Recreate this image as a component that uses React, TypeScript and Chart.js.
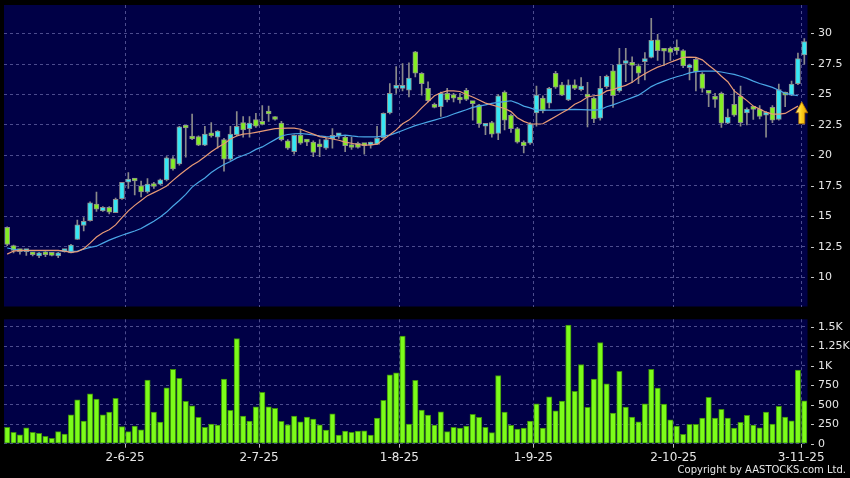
import React, { useEffect, useRef } from 'react';
import { Chart, registerables } from 'chart.js';

Chart.register(...registerables);

// ---- trading days (HK), 6 May 2025 .. 3 Nov 2025 ----
const daysMay = [6, 7, 8, 9, 12, 13, 14, 15, 16, 19, 20, 21, 22, 23, 26, 27, 28, 29, 30];
const daysJun = [2, 3, 4, 5, 6, 9, 10, 11, 12, 13, 16, 17, 18, 19, 20, 23, 24, 25, 26, 27, 30];
const daysJul = [2, 3, 4, 7, 8, 9, 10, 11, 14, 15, 16, 17, 18, 21, 22, 23, 24, 25, 28, 29, 30, 31];
const daysAug = [1, 4, 5, 6, 7, 8, 11, 12, 13, 14, 15, 18, 19, 20, 21, 22, 25, 26, 27, 28, 29];
const daysSep = [1, 2, 3, 4, 5, 8, 9, 10, 11, 12, 15, 16, 17, 18, 19, 22, 23, 24, 25, 26, 29, 30];
const daysOct = [2, 3, 6, 8, 9, 10, 13, 14, 15, 16, 17, 20, 21, 22, 23, 24, 27, 28, 30, 31];
const daysNov = [3];

const categories: string[] = [
  ...daysMay.map((d) => `${d}-5-25`),
  ...daysJun.map((d) => `${d}-6-25`),
  ...daysJul.map((d) => `${d}-7-25`),
  ...daysAug.map((d) => `${d}-8-25`),
  ...daysSep.map((d) => `${d}-9-25`),
  ...daysOct.map((d) => `${d}-10-25`),
  ...daysNov.map((d) => `${d}-11-25`),
];

const tickLabels = ['2-6-25', '2-7-25', '1-8-25', '1-9-25', '2-10-25', '3-11-25'];

// ---- OHLC ----
const open = [
  14.1, 12.6, 12.2, 12.1, 11.9, 11.75, 11.9, 11.95, 11.75, 12.1,
  12.0, 13.1, 14.25, 14.65, 16.0, 15.45, 15.75, 15.3, 16.45, 17.8,
  17.95, 17.5, 17.0, 17.7, 17.65, 18.0, 19.75, 19.3, 22.3, 21.4,
  21.55, 20.85, 21.8, 21.5, 21.3, 19.7, 21.7, 22.7, 22.2, 22.95,
  22.6, 23.45, 23.1, 22.65, 21.2, 20.3, 21.65, 21.15, 21.1, 20.75,
  20.6, 21.35, 21.6, 21.5, 20.85, 21.0, 20.85, 20.85, 20.9, 21.45,
  23.5, 25.5, 25.5, 25.35, 28.5, 26.75, 25.5, 24.2, 24.0, 25.1,
  25.0, 24.8, 25.35, 24.3, 24.15, 22.4, 22.7, 21.8, 25.2, 23.3,
  22.2, 21.1, 21.0, 23.5, 24.7, 24.3, 26.75, 25.8, 24.55, 25.8,
  25.4, 24.85, 24.7, 23.05, 25.65, 26.95, 25.3, 27.55, 27.45, 27.35,
  27.7, 28.05, 29.5, 28.6, 28.8, 28.9, 28.6, 27.2, 27.9, 26.7,
  25.15, 24.65, 25.1, 22.65, 24.2, 24.85, 23.5, 23.8, 23.8, 23.3,
  23.95, 22.95, 25.0, 24.95, 25.9, 28.25,
];
const high = [
  14.15, 12.65, 12.3, 12.2, 12.0, 12.05, 12.1, 12.0, 12.05, 12.2,
  12.7, 14.7, 14.9, 16.2, 17.0, 15.8, 15.8, 16.5, 17.8, 18.6,
  18.0, 17.9, 18.1, 17.8, 18.05, 19.9, 19.9, 22.4, 22.35, 23.4,
  21.6, 22.4, 22.7, 22.05, 21.4, 22.4, 23.6, 23.2, 23.2, 23.45,
  24.1, 24.05, 23.2, 22.8, 21.3, 21.7, 22.1, 21.3, 21.2, 21.3,
  21.4, 22.2, 21.8, 21.6, 21.5, 21.1, 21.0, 21.1, 22.4, 23.5,
  25.9, 27.3, 27.55, 27.6, 28.55, 26.8, 26.05, 24.3, 25.2, 25.5,
  25.1, 25.1, 25.5, 24.4, 24.2, 22.5, 22.8, 25.0, 25.3, 23.4,
  22.3, 21.2, 22.7, 25.7, 24.9, 25.6, 26.9, 26.0, 26.2, 26.2,
  26.4, 26.0, 24.8, 26.5, 26.6, 27.4, 28.8, 28.8, 28.1, 27.5,
  28.45, 31.25, 29.95, 28.7, 28.9, 29.5, 28.7, 27.5, 28.0, 26.8,
  25.2, 25.1, 25.2, 23.8, 25.4, 25.7, 23.9, 24.0, 24.1, 23.6,
  24.1, 25.85, 25.2, 26.1, 28.4, 29.6,
];
const low = [
  12.6, 12.0, 11.9, 11.8, 11.75, 11.6, 11.7, 11.75, 11.6, 12.05,
  12.0, 13.1, 13.8, 14.6, 15.4, 15.4, 15.2, 15.3, 16.4, 17.3,
  16.75, 16.6, 16.9, 17.3, 17.6, 17.9, 18.8, 19.2, 19.85, 21.3,
  20.8, 20.8, 21.5, 20.6, 18.7, 19.6, 21.6, 21.5, 21.5, 22.3,
  22.5, 22.8, 22.9, 21.2, 20.5, 20.1, 20.9, 20.8, 19.9, 19.9,
  20.5, 20.6, 21.4, 20.3, 20.5, 20.6, 20.1, 20.6, 20.9, 21.4,
  23.4, 25.1, 25.3, 24.8, 26.45, 24.95, 24.4, 23.9, 23.2, 24.4,
  24.4, 24.3, 24.5, 22.9, 22.3, 21.7, 21.5, 21.3, 22.1, 21.9,
  21.0, 20.2, 20.9, 22.4, 23.5, 23.9, 25.5, 24.9, 24.5, 25.4,
  25.3, 22.35, 22.7, 22.9, 25.5, 23.95, 25.2, 26.05, 26.0, 25.9,
  26.2, 28.0, 27.8, 27.4, 27.8, 28.3, 27.2, 26.2, 25.3, 25.2,
  24.0, 23.95, 22.3, 22.6, 23.2, 22.4, 22.5, 22.95, 23.0, 21.5,
  22.7, 22.9, 24.0, 24.9, 25.8, 27.5,
];
const close = [
  12.7, 12.2, 12.1, 12.1, 11.85, 12.0, 11.85, 11.8, 12.0, 12.15,
  12.65, 14.3, 14.6, 16.1, 15.6, 15.75, 15.35, 16.4, 17.8, 18.05,
  17.9, 17.0, 17.65, 17.45, 18.0, 19.8, 18.9, 22.35, 22.25, 21.35,
  20.85, 21.75, 21.6, 22.0, 19.7, 21.75, 22.4, 22.1, 22.65, 22.4,
  22.55, 23.4, 22.95, 21.3, 20.6, 21.65, 21.0, 21.1, 20.25, 20.7,
  21.3, 21.65, 21.6, 20.8, 20.65, 20.65, 20.8, 20.9, 21.4, 23.45,
  25.1, 25.55, 25.5, 26.35, 26.75, 25.9, 24.5, 23.95, 25.1, 24.55,
  24.7, 24.55, 24.6, 24.25, 22.6, 22.4, 21.75, 24.9, 22.9, 22.2,
  21.1, 20.8, 22.6, 24.95, 23.65, 25.5, 25.6, 24.95, 25.8, 25.5,
  25.7, 24.8, 23.0, 25.5, 26.5, 24.9, 27.5, 27.6, 27.4, 26.75,
  27.9, 29.45, 28.6, 28.55, 28.45, 28.6, 27.35, 27.4, 26.85, 25.5,
  25.1, 24.6, 22.65, 23.15, 23.3, 22.7, 23.8, 23.78, 23.2, 23.35,
  22.9, 25.4, 24.95, 25.85, 27.95, 29.35,
];

// ---- moving averages ----
const maShort = [
  11.9, 12.15, 12.2, 12.2, 12.2, 12.2, 12.2, 12.2, 12.2, 12.15,
  12.05, 12.1, 12.35, 12.8, 13.3, 13.65, 13.9, 14.3, 14.9, 15.45,
  15.9, 16.3, 16.7, 16.95, 17.2, 17.5, 17.95, 18.4, 18.8, 19.2,
  19.5, 19.9, 20.3, 20.65, 20.95, 21.35, 21.6, 21.75, 21.8, 21.9,
  22.0, 22.1, 22.2, 22.22, 22.25, 22.25, 22.15, 21.95, 21.75, 21.55,
  21.45, 21.35, 21.25, 21.1, 21.0, 20.9, 20.85, 20.87, 20.93, 21.3,
  21.7, 22.1, 22.6, 22.9, 23.35, 23.9, 24.4, 24.9, 25.15, 25.3,
  25.3, 25.25, 25.0, 24.8, 24.55, 24.3, 24.15, 24.0, 23.85, 23.6,
  23.1, 22.8, 22.6, 22.58, 22.6, 22.9, 23.2, 23.5, 23.8, 24.2,
  24.45, 24.8, 24.9, 24.96, 25.3, 25.4, 25.6, 25.75, 26.0, 26.4,
  26.7, 27.0, 27.25, 27.42, 27.65, 27.85, 28.05, 28.07, 28.05, 27.85,
  27.4, 27.0, 26.5, 26.05, 25.3, 24.9, 24.5, 24.05, 23.8, 23.55,
  23.4, 23.4, 23.45, 23.75, 24.05,
];
const maLong = [
  12.4, 12.3, 12.2, 12.18, 12.18, 12.18, 12.18, 12.18, 12.18, 12.15,
  12.1, 12.15, 12.3, 12.45, 12.55, 12.8, 13.05, 13.25, 13.45, 13.62,
  13.8, 14.0, 14.3, 14.6, 14.95, 15.35, 15.85, 16.3, 16.8, 17.4,
  17.8, 18.15, 18.6, 18.95, 19.25, 19.5, 19.8, 20.0, 20.2, 20.5,
  20.7, 21.0, 21.3, 21.6, 21.72, 21.78, 21.8, 21.75, 21.68, 21.6,
  21.55, 21.53, 21.6, 21.67, 21.6, 21.55, 21.53, 21.53, 21.53, 21.6,
  21.67, 21.85, 22.05, 22.25, 22.45, 22.6, 22.75, 22.9, 23.05, 23.2,
  23.4, 23.58, 23.75, 23.95, 24.05, 24.15, 24.27, 24.35, 24.42, 24.49,
  24.3, 24.05, 23.9, 23.72, 23.72, 23.72, 23.72, 23.74, 23.76, 23.78,
  23.76, 23.74, 23.72, 23.76, 24.0, 24.15, 24.35, 24.55, 24.75, 24.95,
  25.3, 25.65, 25.9, 26.1, 26.3, 26.46, 26.6, 26.78, 26.88, 26.92,
  26.92, 26.92, 26.85, 26.75, 26.65, 26.5, 26.33, 26.1, 25.91, 25.75,
  25.59, 25.35, 25.1, 25.0, 24.9,
];

// ---- volume (thousands of shares) ----
const volume = [
  209, 145, 115, 205, 145, 132, 94, 68, 154, 124,
  371, 564, 290, 640, 572, 371, 406, 581, 218, 154,
  226, 179, 815, 406, 278, 717, 952, 837, 542, 487,
  337, 209, 252, 239, 828, 427, 1349, 354, 290, 474,
  658, 474, 453, 286, 243, 354, 282, 342, 316, 243,
  175, 384, 111, 162, 145, 162, 166, 111, 329, 555,
  884, 909, 1379, 252, 811, 431, 367, 239, 410, 154,
  209, 201, 226, 375, 337, 209, 141, 875, 405, 235,
  188, 201, 290, 512, 201, 602, 423, 546, 1520, 671,
  1016, 465, 828, 1298, 769, 393, 927, 470, 342, 282,
  512, 952, 713, 508, 307, 226, 119, 248, 248, 329,
  594, 329, 440, 329, 201, 273, 363, 239, 205, 406,
  252, 478, 342, 294, 943, 551,
];

// ---- buy-signal arrow ----
const signalIndex = 124.6;
const signalTop = 24.4;
const signalBottom = 22.6;

// ---- styles ----
const PLOT_BG = '#000046';
const GRID = '#4c4c8e';
const TEXT = '#e6e6e6';
const UP = '#36e6f4';
const DOWN = '#84ee24';
const OUTLINE = '#8e8e8e';
const FONT = '"DejaVu Sans", Verdana, sans-serif';
const W = 850;
const PRICE_H = 312;
const VOL_H = 166;

const tickSet = new Set(tickLabels);
const gridAt = (ctx: any) => {
  const lbl = categories[ctx.index];
  return tickSet.has(lbl) ? GRID : 'rgba(0,0,0,0)';
};

const plotBg = {
  id: 'plotBg',
  beforeDraw(chart: any) {
    const { ctx, chartArea } = chart;
    ctx.save();
    ctx.fillStyle = PLOT_BG;
    ctx.fillRect(chartArea.left, chartArea.top, chartArea.right - chartArea.left, chartArea.bottom - chartArea.top);
    ctx.restore();
  },
};

const arrowPlugin = {
  id: 'arrow',
  afterDatasetsDraw(chart: any) {
    const { ctx } = chart;
    const xs = chart.scales.x;
    const ys = chart.scales.y;
    const x = xs.getPixelForValue(signalIndex);
    const yT = ys.getPixelForValue(signalTop);
    const yB = ys.getPixelForValue(signalBottom);
    const headH = (yB - yT) * 0.5;
    ctx.save();
    const g = ctx.createLinearGradient(x - 6, 0, x + 6, 0);
    g.addColorStop(0, '#fff2a0');
    g.addColorStop(0.45, '#ffd21e');
    g.addColorStop(1, '#e59a00');
    ctx.fillStyle = g;
    ctx.strokeStyle = '#b07000';
    ctx.lineWidth = 0.8;
    ctx.beginPath();
    ctx.moveTo(x, yT);
    ctx.lineTo(x + 6, yT + headH);
    ctx.lineTo(x + 3, yT + headH);
    ctx.lineTo(x + 3, yB);
    ctx.lineTo(x - 3, yB);
    ctx.lineTo(x - 3, yT + headH);
    ctx.lineTo(x - 6, yT + headH);
    ctx.closePath();
    ctx.fill();
    ctx.stroke();
    ctx.restore();
  },
};

const fitY = (s: any) => {
  s.width = 42.5;
  s.paddingTop = 0;
  s.paddingBottom = 0;
};

export default function App() {
  const priceRef = useRef<HTMLCanvasElement | null>(null);
  const volRef = useRef<HTMLCanvasElement | null>(null);

  useEffect(() => {
    const bodies = categories.map((_, i) => [Math.min(open[i], close[i]), Math.max(open[i], close[i])]);
    const wicks = categories.map((_, i) => [low[i], high[i]]);
    const bodyColors = categories.map((_, i) => (close[i] >= open[i] ? UP : DOWN));

    const priceChart = new Chart(priceRef.current as HTMLCanvasElement, {
      type: 'bar',
      data: {
        labels: categories,
        datasets: [
          {
            type: 'line',
            label: 'MA10',
            data: maShort,
            borderColor: '#e89a76',
            borderWidth: 1.2,
            pointRadius: 0,
            tension: 0,
            order: 0,
          } as any,
          {
            type: 'line',
            label: 'MA20',
            data: maLong,
            borderColor: '#4aa6e6',
            borderWidth: 1.2,
            pointRadius: 0,
            tension: 0,
            order: 0,
          } as any,
          {
            type: 'bar',
            label: 'body',
            data: bodies,
            backgroundColor: bodyColors,
            borderColor: OUTLINE,
            borderWidth: 1,
            borderSkipped: false,
            barThickness: 5,
            minBarLength: 3,
            grouped: false,
            order: 1,
          } as any,
          {
            type: 'bar',
            label: 'wick',
            data: wicks,
            backgroundColor: '#8a8a8a',
            borderWidth: 0,
            barThickness: 1,
            grouped: false,
            order: 2,
          } as any,
        ],
      },
      options: {
        responsive: false,
        animation: false,
        devicePixelRatio: 1,
        layout: { padding: { left: 4, top: 5, right: 0, bottom: 0 } },
        plugins: { legend: { display: false }, tooltip: { enabled: false } },
        events: [],
        scales: {
          x: {
            type: 'category',
            offset: true,
            grid: { offset: true, color: gridAt, drawTicks: false, lineWidth: 1 },
            border: { display: false, dash: [3, 3] },
            ticks: { display: false, autoSkip: false },
            afterFit: (s: any) => {
              s.height = 5.5;
              s.paddingLeft = 0;
              s.paddingRight = 0;
            },
          },
          y: {
            position: 'right',
            min: 7.6,
            max: 32.35,
            grid: { color: GRID, drawTicks: false, lineWidth: 1 },
            border: { display: false, dash: [3, 3] },
            ticks: {
              stepSize: 2.5,
              includeBounds: false,
              padding: 3,
              color: TEXT,
              font: { family: FONT, size: 11 },
              callback: (v: any) => '- ' + v,
            },
            afterFit: fitY,
          },
        },
      } as any,
      plugins: [plotBg, arrowPlugin],
    });

    const volChart = new Chart(volRef.current as HTMLCanvasElement, {
      type: 'bar',
      data: {
        labels: categories,
        datasets: [
          {
            label: 'Volume',
            data: volume,
            backgroundColor: '#7cfc1a',
            borderColor: '#3d8e0c',
            borderWidth: 1,
            borderSkipped: false,
            barThickness: 5.4,
          } as any,
        ],
      },
      options: {
        responsive: false,
        animation: false,
        devicePixelRatio: 1,
        layout: { padding: { left: 4, top: 7.3, right: 0, bottom: 0 } },
        plugins: { legend: { display: false }, tooltip: { enabled: false } },
        events: [],
        scales: {
          x: {
            type: 'category',
            offset: true,
            grid: {
              offset: true,
              color: gridAt,
              tickColor: (ctx: any) => (tickSet.has(categories[ctx.index]) ? '#bbbbbb' : 'rgba(0,0,0,0)'),
              drawTicks: true,
              tickLength: 4,
              lineWidth: 1,
            },
            border: { display: false, dash: [3, 3] },
            ticks: {
              autoSkip: false,
              maxRotation: 0,
              minRotation: 0,
              labelOffset: -3.2,
              padding: 3,
              color: TEXT,
              font: { family: FONT, size: 12 },
              callback: function (this: any, value: any, index: number) {
                const lbl = categories[index];
                return tickSet.has(lbl) ? lbl : '';
              },
            },
            afterFit: (s: any) => {
              s.height = 34.3;
              s.paddingLeft = 0;
              s.paddingRight = 0;
            },
          },
          y: {
            position: 'right',
            min: 0,
            max: 1595,
            grid: { color: GRID, drawTicks: false, lineWidth: 1 },
            border: { display: false, dash: [3, 3] },
            ticks: {
              stepSize: 250,
              includeBounds: false,
              padding: 3,
              color: TEXT,
              font: { family: FONT, size: 11 },
              callback: (v: any) => '- ' + (v >= 1000 ? v / 1000 + 'K' : String(v)),
            },
            afterFit: fitY,
          },
        },
      } as any,
      plugins: [plotBg],
    });

    return () => {
      priceChart.destroy();
      volChart.destroy();
    };
  }, []);

  return (
    <div
      style={{
        position: 'fixed',
        left: 0,
        top: 0,
        width: W,
        height: 478,
        background: '#000',
        overflow: 'hidden',
      }}
    >
      <canvas
        ref={priceRef}
        width={W}
        height={PRICE_H}
        style={{ position: 'absolute', left: 0, top: 0, width: W, height: PRICE_H }}
      />
      <canvas
        ref={volRef}
        width={W}
        height={VOL_H}
        style={{ position: 'absolute', left: 0, top: PRICE_H, width: W, height: VOL_H }}
      />
      <div
        style={{
          position: 'absolute',
          right: 4,
          top: 464,
          font: `10px ${FONT}`,
          color: TEXT,
          whiteSpace: 'nowrap',
        }}
      >
        Copyright by AASTOCKS.com Ltd.
      </div>
    </div>
  );
}
